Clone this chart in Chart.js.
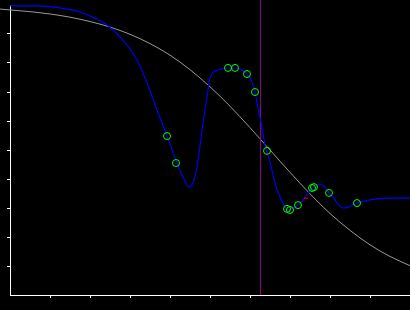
<!DOCTYPE html>
<html>
<head>
<meta charset="utf-8">
<script src="https://cdn.jsdelivr.net/npm/chart.js@4/dist/chart.umd.min.js"></script>
<style>
    html, body { margin: 0; padding: 0; background: #000; }
    #wrap { width: 410px; height: 310px; }
</style>
</head>
<body>
<div id="wrap"><canvas id="grafico"></canvas></div>
<script>
// curva azul (ajuste)
const blueX = [0, 0.675, 1.25, 1.75, 2.0, 2.425, 2.825, 3.175, 3.425, 3.675, 3.925, 4.175, 4.325, 4.475, 4.55, 4.675, 4.8, 4.925, 5.0, 5.2, 5.45, 5.6, 5.8, 5.925, 6.05, 6.125, 6.2, 6.3, 6.375, 6.425, 6.5, 6.625, 6.75, 6.875, 6.95, 7.075, 7.2, 7.325, 7.45, 7.575, 7.75, 7.875, 7.975, 8.125, 8.325, 8.45, 8.675, 9.0, 9.425, 10];
const blueY = [9.97, 9.97, 9.9, 9.76, 9.62, 9.31, 8.79, 8.1, 7.31, 6.38, 5.48, 4.55, 4.07, 3.72, 3.79, 4.41, 5.69, 6.83, 7.48, 7.76, 7.83, 7.83, 7.76, 7.62, 7.35, 7.0, 6.45, 5.76, 5.17, 4.93, 4.59, 3.86, 3.38, 3.03, 2.93, 3.0, 3.1, 3.28, 3.52, 3.72, 3.83, 3.72, 3.52, 3.28, 3.0, 3.03, 3.17, 3.28, 3.34, 3.34];

// curva cinza (referência)
const grayX = [-0.25, 0, 0.5, 1, 1.5, 2, 2.5, 3, 3.5, 4, 4.5, 5, 5.5, 6, 6.5, 7, 7.5, 8, 8.5, 9, 9.5, 10];
const grayY = [9.86, 9.83, 9.77, 9.69, 9.58, 9.43, 9.24, 8.99, 8.67, 8.27, 7.77, 7.18, 6.51, 5.77, 5.0, 4.23, 3.49, 2.81, 2.23, 1.73, 1.33, 1.01];

// pontos observados
const greenX = [3.925, 4.15, 5.45, 5.625, 5.925, 6.125, 6.425, 6.925, 7.0, 7.2, 7.55, 7.6, 7.975, 8.675];
const greenY = [5.48, 4.55, 7.83, 7.83, 7.62, 7.0, 4.97, 2.97, 2.93, 3.1, 3.69, 3.72, 3.52, 3.17];

// linha vertical e marcador vermelho
const cutX = 6.2625;
const cutY = [0, 10.2];
const redX = [7.4];
const redY = [3.34];

const pares = (xs, ys) => xs.map((x, i) => ({ x: x, y: ys[i] }));

const tickColor = ctx => (ctx.tick && (ctx.tick.value === 0 || ctx.tick.value === 10)) ? "rgba(0,0,0,0)" : "#ffffff";

new Chart(document.getElementById("grafico").getContext("2d"), {
    type: "line",
    data: {
        datasets: [
            {
                data: pares(redX, redY),
                showLine: false,
                pointStyle: "line",
                pointRadius: 2.2,
                borderColor: "#ff0000",
                borderWidth: 1,
                order: 0
            },
            {
                data: pares(greenX, greenY),
                showLine: false,
                pointRadius: 3.5,
                pointBorderColor: "#00ff00",
                pointBackgroundColor: "rgba(0,0,0,0)",
                pointBorderWidth: 1,
                order: 1
            },
            {
                data: pares(blueX, blueY),
                borderColor: "#0000ff",
                borderWidth: 1.1,
                pointRadius: 0,
                cubicInterpolationMode: "monotone",
                order: 2
            },
            {
                data: pares([cutX, cutX], cutY),
                borderColor: "#8a008a",
                borderWidth: 1,
                pointRadius: 0,
                clip: false,
                order: 3
            },
            {
                data: pares(grayX, grayY),
                borderColor: "#999999",
                borderWidth: 1,
                pointRadius: 0,
                cubicInterpolationMode: "monotone",
                clip: false,
                order: 4
            }
        ]
    },
    options: {
        responsive: true,
        maintainAspectRatio: false,
        animation: false,
        layout: { autoPadding: false, padding: { left: 7, top: 5, right: 0, bottom: 12 } },
        plugins: { legend: { display: false }, tooltip: { enabled: false } },
        scales: {
            x: {
                type: "linear",
                min: 0,
                max: 10,
                ticks: { display: false, stepSize: 1 },
                grid: { drawOnChartArea: false, drawTicks: true, tickLength: 3, color: tickColor },
                border: { color: "#ffffff", width: 1 }
            },
            y: {
                type: "linear",
                min: 0,
                max: 10,
                ticks: { display: false, stepSize: 1 },
                grid: { drawOnChartArea: false, drawTicks: true, tickLength: 3, color: tickColor },
                border: { color: "#ffffff", width: 1 }
            }
        }
    }
});
</script>
</body>
</html>
